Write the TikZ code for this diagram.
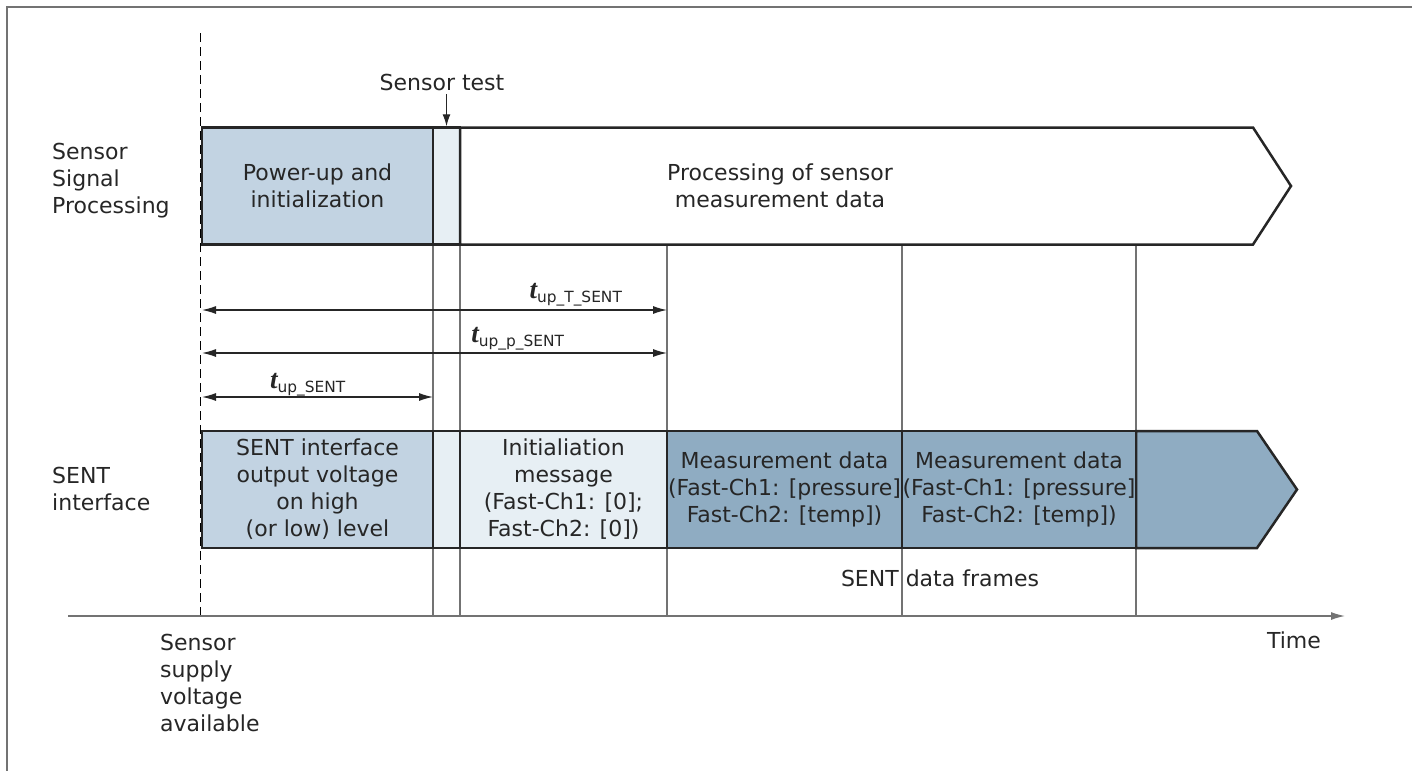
\documentclass[tikz,border=0pt]{standalone}
\usepackage{fontspec}
\setmainfont{DejaVu Sans}
\newfontfamily\timefont{Liberation Serif}
\usetikzlibrary{arrows.meta}

\definecolor{boxblue}{HTML}{C2D3E2}
\definecolor{boxpale}{HTML}{E7EFF4}
\definecolor{boxdark}{HTML}{8FACC2}
\definecolor{gridgrey}{HTML}{737373}
\definecolor{inkgrey}{HTML}{262626}

\newcommand{\tvar}[1]{{\fontsize{27}{27}\selectfont\timefont\bfseries\itshape t}\textsubscript{#1}}

\tikzset{
  phase/.style={draw=inkgrey, line width=2.5pt, minimum height=117pt, inner sep=0pt, align=center},
  gridline/.style={gridgrey, line width=1.3pt},
  span/.style={{Latex[length=14pt,width=8pt]}-{Latex[length=14pt,width=8pt]}, inkgrey, line width=1.2pt},
  lane/.style={align=left, anchor=west, inner sep=0pt}
}

\begin{document}
\begin{tikzpicture}[x=1pt, y=-1pt, font=\fontsize{22}{27}\selectfont, text=inkgrey]
    \useasboundingbox (0,0) rectangle (1412,771);
    % frame
    \draw[gridgrey, line width=1.5pt] (1412,7) -- (7,7) -- (7,771);

    % supply voltage and grid lines
    \draw[black, line width=0.9pt, dash pattern=on 9pt off 5pt] (200,33) -- (200,616);
    \foreach \x in {433, 460, 667, 902, 1136}
        \draw[gridline] (\x,245) -- (\x,616);

    % sensor signal processing
    \node[phase, fill=boxblue, minimum width=231pt] (pwr) at (317.5,186) {Power-up and\\initialization};
    \node[phase, fill=boxpale, minimum width=27pt] (test) at (446.5,186) {};
    \draw[draw=inkgrey, fill=white, line width=2.5pt, line join=miter]
        (460,127.5) -- (1253,127.5) -- (1291,186) -- (1253,244.5) -- (460,244.5) -- cycle;
    \node[align=center] (proc) at (780,186) {Processing of sensor\\measurement data};

    \node (testlbl) at (442,82) {Sensor test};
    \draw[-{Latex[length=12pt,width=8pt]}, inkgrey, line width=1.2pt] (test.north |- testlbl.south) -- (test.north);

    % startup times
    \coordinate (t0a) at (202,310);
    \coordinate (t0b) at (202,353);
    \coordinate (t0c) at (202,397);
    \draw[span] (t0a) -- (t0a -| 667,0);
    \draw[span] (t0b) -- (t0b -| 667,0);
    \draw[span] (t0c) -- (t0c -| 433,0);
    \node[anchor=base] (tT) at (576,298) {\tvar{up\_T\_SENT}};
    \node[anchor=base] (tp) at (518,342) {\tvar{up\_p\_SENT}};
    \node[anchor=base] (ts) at (308,388) {\tvar{up\_SENT}};

    % SENT interface
    \draw[draw=inkgrey, fill=boxdark, line width=2.5pt, line join=miter]
        (1136,431) -- (1257,431) -- (1297,489.5) -- (1257,548) -- (1136,548) -- cycle;
    \node[phase, fill=boxblue, minimum width=231pt] (sentout) at (317.5,489.5) {SENT interface\\output voltage\\on high\\(or low) level};
    \node[phase, fill=boxpale, minimum width=27pt] (sentgap) at (446.5,489.5) {};
    \node[phase, fill=boxpale, minimum width=207pt] (initmsg) at (563.5,489.5) {Initialiation\\message\\(Fast-Ch1: [0];\\Fast-Ch2: [0])};
    \node[phase, fill=boxdark, minimum width=235pt] (frame1) at (784.5,489.5) {Measurement data\\(Fast-Ch1: [pressure]\\Fast-Ch2: [temp])};
    \node[phase, fill=boxdark, minimum width=234pt] (frame2) at (1019,489.5) {Measurement data\\(Fast-Ch1: [pressure]\\Fast-Ch2: [temp])};
    \node (frames) at (940,578) {SENT data frames};

    % lanes
    \node[lane] (ssp) at (52,181) {Sensor\\Signal\\Processing};
    \node[lane] (sent) at (52,489) {SENT\\interface};

    % time axis
    \coordinate (axisstart) at (68,616);
    \coordinate (axisend) at (1345,616);
    \draw[-{Latex[length=14pt,width=8pt]}, gridgrey, line width=1.3pt] (axisstart) -- (axisend);
    \node (time) at (1294,640) {Time};
    \node[lane] (supply) at (160,683) {Sensor\\supply\\voltage\\available};
\end{tikzpicture}
\end{document}
